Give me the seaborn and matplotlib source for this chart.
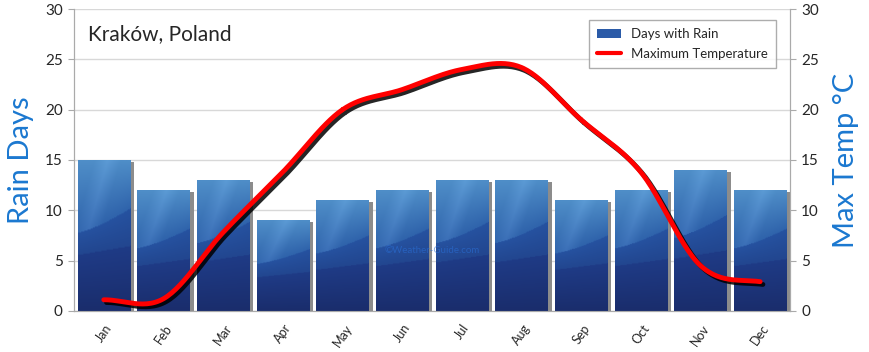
import numpy as np
import pandas as pd
import matplotlib
matplotlib.use("Agg")
import matplotlib.pyplot as plt
import matplotlib.patheffects as pe
import matplotlib.transforms as mtransforms
from matplotlib.patches import Rectangle
from matplotlib.colors import to_rgb
import seaborn as sns

months = ['Jan', 'Feb', 'Mar', 'Apr', 'May', 'Jun', 'Jul', 'Aug', 'Sep', 'Oct', 'Nov', 'Dec']
rain_days = [15, 12, 13, 9, 11, 12, 13, 13, 11, 12, 14, 12]
max_temp = [1.1, 1.2, 7.8, 13.8, 20.0, 22.0, 24.0, 24.2, 19.0, 13.8, 4.5, 2.9]

df = pd.DataFrame({'month': months, 'rain': rain_days, 'temp': max_temp})

sns.set_style("white")
plt.rcParams['font.family'] = ['Lato', 'DejaVu Sans']

fig = plt.figure(figsize=(8.7, 3.52), dpi=100)
ax = fig.add_axes([0.085, 0.117, 0.823, 0.857])

sns.barplot(data=df, x='month', y='rain', ax=ax, width=0.88, color='#2a5aa5', zorder=3)


def band_fill(ny=150, nx=50):
    # three wavy bands: dark navy bottom, mid blue, lighter top
    yy, xx = np.mgrid[0:1:ny * 1j, 0:1:nx * 1j]
    dark_top = 0.37 + 0.06 * xx
    mid_top = 0.52 + 0.16 * xx ** 1.3
    img = np.zeros((ny, nx, 3))
    c_dark0, c_dark1 = np.array(to_rgb('#1a2d6c')), np.array(to_rgb('#1f3b86'))
    c_mid0, c_mid1 = np.array(to_rgb('#22468f')), np.array(to_rgb('#2652a0'))
    c_top0, c_top1 = np.array(to_rgb('#2f63ab')), np.array(to_rgb('#4f8ec8'))
    t = np.clip(yy / dark_top, 0, 1)[..., None]
    dark = c_dark0 + (c_dark1 - c_dark0) * t
    t = np.clip((yy - dark_top) / (mid_top - dark_top), 0, 1)[..., None]
    mid = c_mid0 + (c_mid1 - c_mid0) * t
    t = np.clip((yy - mid_top) / (1 - mid_top), 0, 1)[..., None]
    top = c_top0 + (c_top1 - c_top0) * t
    # faint diagonal light streak in top band
    streak = np.clip(1 - np.abs((xx - 0.4) - (yy - 0.8) * 0.8) / 0.25, 0, 1)[..., None] * 0.05
    top = np.clip(top + streak, 0, 1)
    img[:] = np.where((yy < dark_top)[..., None], dark,
                      np.where((yy < mid_top)[..., None], mid, top))
    return img


shadow_tr = mtransforms.offset_copy(ax.transData, fig=fig, x=4, y=-2, units='dots')
fill = band_fill()
for p in ax.patches:
    x0, w, h = p.get_x(), p.get_width(), p.get_height()
    ax.add_patch(Rectangle((x0, 0), w, h, transform=shadow_tr, facecolor='#8c8c8c',
                           edgecolor='none', zorder=2))
    img = ax.imshow(fill, extent=(x0, x0 + w, 0, h), origin='lower',
                    aspect='auto', zorder=3, interpolation='bilinear')
    img.set_clip_path(p)
    p.set_facecolor('none')
    p.set_edgecolor('none')

ax.set_xlim(-0.5, 11.5)
ax.set_ylim(0, 30)
ax.set_yticks(range(0, 31, 5))
ax.set_xticks(np.arange(-0.5, 12, 1), minor=True)
ax.set_xticks(range(12))
ax.set_xticklabels(months, rotation=55, ha='center', fontsize=9)
ax.tick_params(axis='x', which='major', length=0, pad=8)
ax.tick_params(axis='x', which='minor', length=4, color='#aaaaaa', direction='out')
ax.tick_params(axis='y', length=4, color='#aaaaaa', direction='out', labelsize=11, pad=4)
ax.grid(axis='y', color='#d8d8d8', lw=1, zorder=0)
ax.set_axisbelow(True)
for s in ['left', 'bottom', 'right']:
    ax.spines[s].set_color('#aaaaaa')
ax.spines['top'].set_visible(False)
ax.set_xlabel('')
ax.set_ylabel('Rain Days', fontsize=21, color='#1b78d0', labelpad=8)

ax2 = ax.twinx()
# smooth the drawn line through the monthly points (Catmull-Rom)
xs = np.arange(12, dtype=float)
ys = np.array(max_temp)
px = np.concatenate([[xs[0] - 1], xs, [xs[-1] + 1]])
py = np.concatenate([[ys[0]], ys, [ys[-1]]])
sx, sy = [], []
for i in range(1, 12):
    t = np.linspace(0, 1, 30)
    for arr, out in ((px, sx), (py, sy)):
        p0, p1, p2, p3 = arr[i - 1], arr[i], arr[i + 1], arr[i + 2]
        out.extend(0.5 * (2 * p1 + (-p0 + p2) * t + (2 * p0 - 5 * p1 + 4 * p2 - p3) * t ** 2
                          + (-p0 + 3 * p1 - 3 * p2 + p3) * t ** 3))
ax2.plot(sx, sy, color='#ff0000', lw=3.5, solid_capstyle='round', zorder=5,
         path_effects=[pe.SimpleLineShadow(offset=(2, -2), shadow_color='black', alpha=0.85),
                       pe.Normal()])
ax2.set_ylim(0, 30)
ax2.set_yticks(range(0, 31, 5))
ax2.tick_params(axis='y', length=4, color='#aaaaaa', direction='out', labelsize=11, pad=4)
for s in ['left', 'bottom', 'right']:
    ax2.spines[s].set_color('#aaaaaa')
ax2.spines['top'].set_visible(False)
ax2.set_ylabel('Max Temp °C', fontsize=21, color='#1b78d0', labelpad=10)
ax2.set_xlim(-0.5, 11.5)

ax.text(0.02, 0.95, 'Kraków, Poland', transform=ax.transAxes, fontsize=15, va='top', ha='left',
        zorder=6)
ax.text(0.5, 0.2, '©Weather-Guide.com', transform=ax.transAxes, fontsize=7, color='#2a6fd6',
        alpha=0.6, ha='center', va='center', zorder=6)

handles = [Rectangle((0, 0), 1, 1, facecolor='#2b5ba8', edgecolor='none'),
           plt.Line2D([0], [0], color='#ff0000', lw=3)]
leg = ax2.legend(handles, ['Days with Rain', 'Maximum Temperature'], loc='upper right',
                 bbox_to_anchor=(0.99, 0.985), fontsize=9.5, fancybox=False, frameon=True,
                 edgecolor='#999999', handlelength=1.8, borderpad=0.6, labelspacing=0.6)
leg.get_frame().set_linewidth(1)

fig.savefig('out.png', dpi=100)
